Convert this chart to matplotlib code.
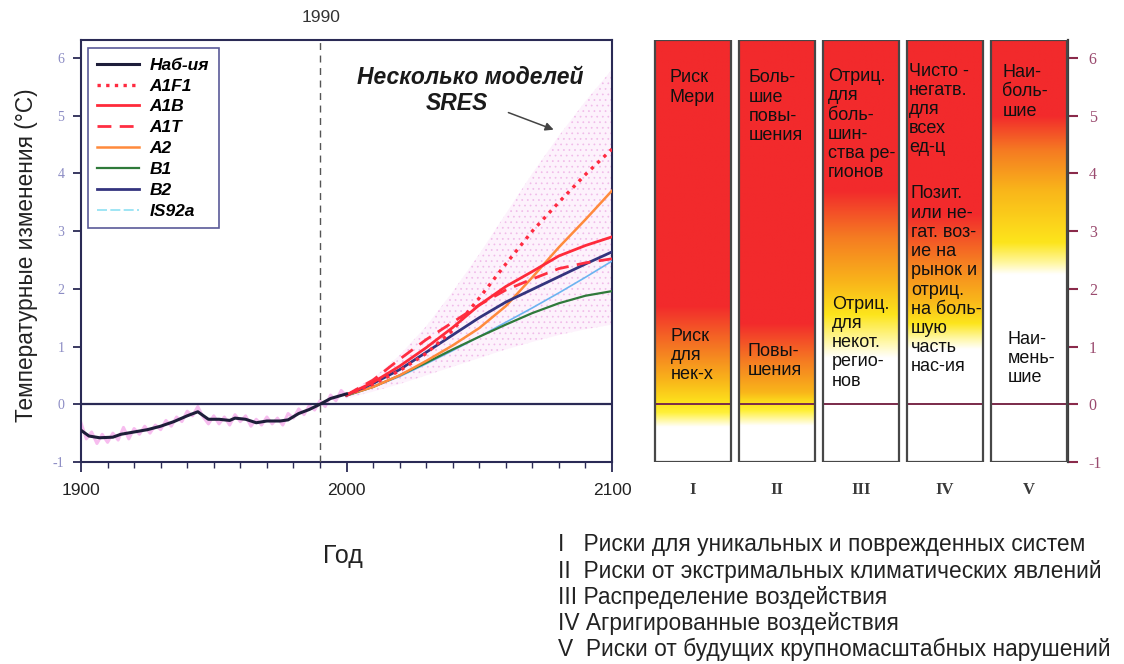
import numpy as np
import matplotlib
matplotlib.use("Agg")
import matplotlib.pyplot as plt
from matplotlib.patches import Rectangle
from matplotlib.lines import Line2D
from matplotlib.ticker import FuncFormatter

plt.rcParams["font.family"] = ["Liberation Sans", "DejaVu Sans"]
plt.rcParams["hatch.linewidth"] = 0.5

# ---------------- data ----------------
obs_years = [1900, 1903, 1907, 1912, 1915, 1920, 1925, 1930, 1935, 1940, 1944,
             1948, 1952, 1956, 1958, 1962, 1966, 1970, 1975, 1978, 1982, 1986,
             1990, 1994, 1997, 2000]
obs_vals = [-0.45, -0.55, -0.58, -0.57, -0.52, -0.48, -0.44, -0.38, -0.30, -0.20,
            -0.13, -0.26, -0.26, -0.28, -0.24, -0.26, -0.32, -0.29, -0.29, -0.27,
            -0.16, -0.09, 0.00, 0.10, 0.14, 0.18]

annual_years = list(range(1900, 2001, 2))
annual_vals = [-0.32, -0.60, -0.48, -0.68, -0.52, -0.66, -0.50, -0.62, -0.40, -0.60,
               -0.42, -0.52, -0.38, -0.50, -0.36, -0.44, -0.28, -0.38, -0.22, -0.30,
               -0.12, -0.20, -0.04, -0.22, -0.34, -0.20, -0.34, -0.22, -0.36, -0.18,
               -0.30, -0.20, -0.38, -0.26, -0.36, -0.22, -0.34, -0.24, -0.36, -0.16,
               -0.24, -0.08, -0.18, -0.02, -0.10, 0.06, -0.04, 0.16, 0.06, 0.24, 0.14]

proj_years = [2000, 2010, 2020, 2030, 2040, 2050, 2060, 2070, 2080, 2090, 2100]
a1f1 = [0.16, 0.35, 0.58, 0.88, 1.28, 1.84, 2.43, 3.00, 3.50, 3.98, 4.42]
a1b = [0.16, 0.38, 0.66, 0.98, 1.33, 1.72, 2.04, 2.30, 2.57, 2.75, 2.90]
a1t = [0.16, 0.42, 0.78, 1.12, 1.42, 1.72, 1.98, 2.17, 2.35, 2.45, 2.52]
a2 = [0.16, 0.30, 0.50, 0.75, 1.02, 1.32, 1.70, 2.20, 2.72, 3.20, 3.70]
b1 = [0.15, 0.30, 0.50, 0.72, 0.95, 1.17, 1.38, 1.58, 1.75, 1.88, 1.96]
b2 = [0.16, 0.36, 0.60, 0.90, 1.20, 1.50, 1.77, 1.99, 2.21, 2.43, 2.64]
is92a = [0.15, 0.30, 0.48, 0.70, 0.93, 1.17, 1.42, 1.67, 1.93, 2.20, 2.48]
env_upper = [0.20, 0.45, 0.85, 1.35, 1.95, 2.60, 3.30, 4.00, 4.65, 5.25, 5.80]
env_lower = [0.10, 0.22, 0.35, 0.50, 0.65, 0.80, 0.95, 1.08, 1.20, 1.30, 1.38]

series_labels = ["Наб-ия", "A1F1", "A1B", "A1T", "A2", "B1", "B2", "IS92a"]

bar_numerals = ["I", "II", "III", "IV", "V"]
# colour stops per column: (temperature, colour)
RED, ORANGE, AMBER, YELLOW, PALE, WHITE = ("#f22a2c", "#f57b22", "#f9b61a",
                                            "#fde51c", "#fff7a0", "#ffffff")
bar_stops = [
    [(6.4, RED), (1.7, RED), (0.95, ORANGE), (0.4, AMBER), (0.0, YELLOW), (-0.15, "#fff03a"), (-0.4, WHITE), (-1.1, WHITE)],
    [(6.4, RED), (1.4, RED), (0.75, ORANGE), (0.2, AMBER), (0.0, YELLOW), (-0.12, "#fff03a"), (-0.38, WHITE), (-1.1, WHITE)],
    [(6.4, RED), (3.7, RED), (2.9, ORANGE), (2.1, AMBER), (1.55, YELLOW), (1.1, PALE), (0.8, WHITE), (-1.1, WHITE)],
    [(6.4, RED), (3.3, RED), (2.5, ORANGE), (1.8, AMBER), (1.4, YELLOW), (1.15, PALE), (0.95, WHITE), (-1.1, WHITE)],
    [(6.4, RED), (5.0, RED), (4.4, ORANGE), (3.7, AMBER), (2.8, YELLOW), (2.45, PALE), (2.25, WHITE), (-1.1, WHITE)],
]
bar_top_text = ["Риск\nМери", "Боль-\nшие\nповы-\nшения",
                "Отриц.\nдля\nболь-\nшин-\nства ре-\nгионов",
                "Чисто -\nнегатв.\nдля\nвсех\nед-ц", "Наи-\nболь-\nшие"]
bar_low_text = ["Риск\nдля\nнек-х", "Повы-\nшения",
                "Отриц.\nдля\nнекот.\nрегио-\nнов",
                "Позит.\nили не-\nгат. воз-\nие на\nрынок и\nотриц.\nна боль-\nшую\nчасть\nнас-ия",
                "Наи-\nмень-\nшие"]
bar_notes = ["I   Риски для уникальных и поврежденных систем",
             "II  Риски от экстримальных климатических явлений",
             "III Распределение воздействия",
             "IV Агригированные воздействия",
             "V  Риски от будущих крупномасштабных нарушений"]

# ---------------- figure ----------------
W, H = 1124, 664
fig = plt.figure(figsize=(W / 100, H / 100), dpi=100)
YMIN, YMAX = -1.0, 6.31

def fx(px):
    return px / W

def fy(py):
    return 1 - py / H

hyphen_fmt = FuncFormatter(lambda v, p: f"{int(round(v))}".replace("\u2212", "-"))

NAVY = "#2a2a55"

# left panel: observed and projected warming
ax = fig.add_axes([fx(81), fy(462), fx(612) - fx(81), fy(40) - fy(462)])
ax.set_xlim(1900, 2100)
ax.set_ylim(YMIN, YMAX)

ax.fill_between(proj_years, env_lower, env_upper, facecolor="#fdf2fc",
                edgecolor="#f0bbe9", hatch="...", linewidth=0, zorder=1)
ax.plot(annual_years, annual_vals, color="#f07ce0", lw=2.2, alpha=0.5, zorder=2)
ax.axhline(0, color=NAVY, lw=1.6, zorder=3)
ax.axvline(1990, color="#555555", lw=1.0, dashes=(5, 4), zorder=3)

h_obs, = ax.plot(obs_years, obs_vals, color="#1e1e3a", lw=2.2, zorder=6)
h_is, = ax.plot(proj_years, is92a, color="#6cb4f0", lw=1.2, zorder=4)
h_b1, = ax.plot(proj_years, b1, color="#2f7a3a", lw=1.6, zorder=4)
h_a2, = ax.plot(proj_years, a2, color="#ff8a3c", lw=1.8, zorder=4)
h_b2, = ax.plot(proj_years, b2, color="#34347e", lw=2.0, zorder=5)
h_a1t, = ax.plot(proj_years, a1t, color="#ff2e42", lw=2.0, dashes=(5, 3), zorder=5)
h_a1b, = ax.plot(proj_years, a1b, color="#ff2a3a", lw=2.0, zorder=5)
h_a1f1, = ax.plot(proj_years, a1f1, color="#ff2a40", lw=2.4, dashes=(1, 1.6), zorder=5)

leg_handles = [h_obs, h_a1f1, h_a1b, h_a1t, h_a2, h_b1, h_b2,
               Line2D([], [], color="#8fe0f2", lw=1.2, dashes=(6, 2))]
leg = ax.legend(leg_handles, series_labels, loc="upper left",
                bbox_to_anchor=(0.013, 0.981), borderaxespad=0,
                prop={"weight": "bold", "style": "italic", "size": 12.5},
                handlelength=2.4, handletextpad=0.6, labelspacing=0.33,
                borderpad=0.55, fancybox=False, framealpha=1)
leg.get_frame().set_edgecolor("#5a5a98")
leg.get_frame().set_linewidth(1.2)

ax.annotate("", xy=(2079, 4.74), xytext=(2060, 5.07),
            arrowprops=dict(arrowstyle="-|>", color="#444444", lw=1.1,
                            mutation_scale=12))
ax.text(2046.5, 5.66, "Несколько моделей", ha="center", va="center",
        fontsize=16.5, fontweight="bold", fontstyle="italic", color="#1a1a1a")
ax.text(2041.6, 5.21, "SRES", ha="center", va="center",
        fontsize=16.5, fontweight="bold", fontstyle="italic", color="#1a1a1a")

for s in ax.spines.values():
    s.set_color(NAVY)
    s.set_linewidth(1.5)
ax.set_xticks([1900, 2000, 2100])
ax.set_xticks(np.arange(1900, 2101, 10), minor=True)
ax.set_yticks(range(-1, 7))
ax.yaxis.set_major_formatter(hyphen_fmt)
ax.tick_params(axis="x", which="major", direction="out", length=7, width=1.3,
               color=NAVY, labelsize=12.5, pad=8, labelcolor="#222222")
ax.tick_params(axis="x", which="minor", direction="out", length=4, width=1.0, color=NAVY)
ax.tick_params(axis="y", direction="out", length=6, width=1.3, color=NAVY,
               labelsize=10, pad=6, labelcolor="#8c8cc4")
for lab in ax.get_yticklabels():
    lab.set_family("Liberation Serif")

fig.text(fx(321), fy(18), "1990", ha="center", va="center", fontsize=12.5,
         color="#333333")
fig.text(fx(27), fy(255), "Температурные изменения (°C)", rotation=90,
         ha="center", va="center", fontsize=16.3, color="#222222")
fig.text(fx(343), fy(556), "Год", ha="center", va="center", fontsize=18,
         color="#222222")

# right panel: risk columns
axr = fig.add_axes([fx(648), fy(462), fx(1068) - fx(648), fy(40) - fy(462)])
axr.set_xlim(0, 5)
axr.set_ylim(YMIN, YMAX)

temps = np.linspace(YMIN, YMAX, 400)

def hex_rgb(h):
    return np.array([int(h[i:i + 2], 16) / 255 for i in (1, 3, 5)])

for i, stops in enumerate(bar_stops):
    st = sorted(stops, key=lambda s: s[0])
    t = [s[0] for s in st]
    cols = np.array([hex_rgb(s[1]) for s in st])
    rgb = np.stack([np.interp(temps, t, cols[:, k]) for k in range(3)], axis=-1)
    img = rgb[:, None, :]
    x0, x1 = i + 0.08, i + 0.99
    axr.imshow(img, extent=(x0, x1, YMIN, YMAX), origin="lower",
               aspect="auto", interpolation="bilinear", zorder=1)
    axr.add_patch(Rectangle((x0, YMIN), x1 - x0, YMAX - YMIN, fill=False,
                            edgecolor="#474747", lw=1.6, zorder=4))
    axr.plot([x0, x1], [0, 0], color="#7a2a4a", lw=1.4, zorder=3)
    axr.text((x0 + x1) / 2, -1.49, bar_numerals[i], ha="center", va="center",
             fontsize=12, fontweight="bold", family="Liberation Serif",
             color="#3a3a3a")

top_pos = [(0.26, 5.80), (1.20, 5.80), (2.14, 5.82), (3.11, 5.92), (4.22, 5.89)]
low_pos = [(0.27, 1.32), (1.19, 1.07), (2.19, 1.88), (3.13, 3.79), (4.28, 1.27)]
for i in range(5):
    axr.text(*top_pos[i], bar_top_text[i], ha="left", va="top", fontsize=13,
             linespacing=1.17, color="#111111", zorder=5)
    axr.text(*low_pos[i], bar_low_text[i], ha="left", va="top", fontsize=13,
             linespacing=1.17, color="#111111", zorder=5)

for k in ("left", "top", "bottom"):
    axr.spines[k].set_visible(False)
axr.spines["right"].set_color("#3e3e3e")
axr.spines["right"].set_linewidth(1.6)
axr.set_xticks([])
axr.set_yticks(range(-1, 7))
axr.yaxis.set_major_formatter(hyphen_fmt)
axr.yaxis.tick_right()
axr.tick_params(axis="y", direction="out", length=7, width=1.5, color="#8a2a4a",
                labelsize=11.5, pad=8, labelcolor="#9a4a6e")
for lab in axr.get_yticklabels():
    lab.set_family("Liberation Serif")

for j, line in enumerate(bar_notes):
    fig.text(fx(558), fy(545 + 26.2 * j), line, ha="left", va="center",
             fontsize=16.4, color="#222222")

fig.savefig("out.png", dpi=100, facecolor="white")
